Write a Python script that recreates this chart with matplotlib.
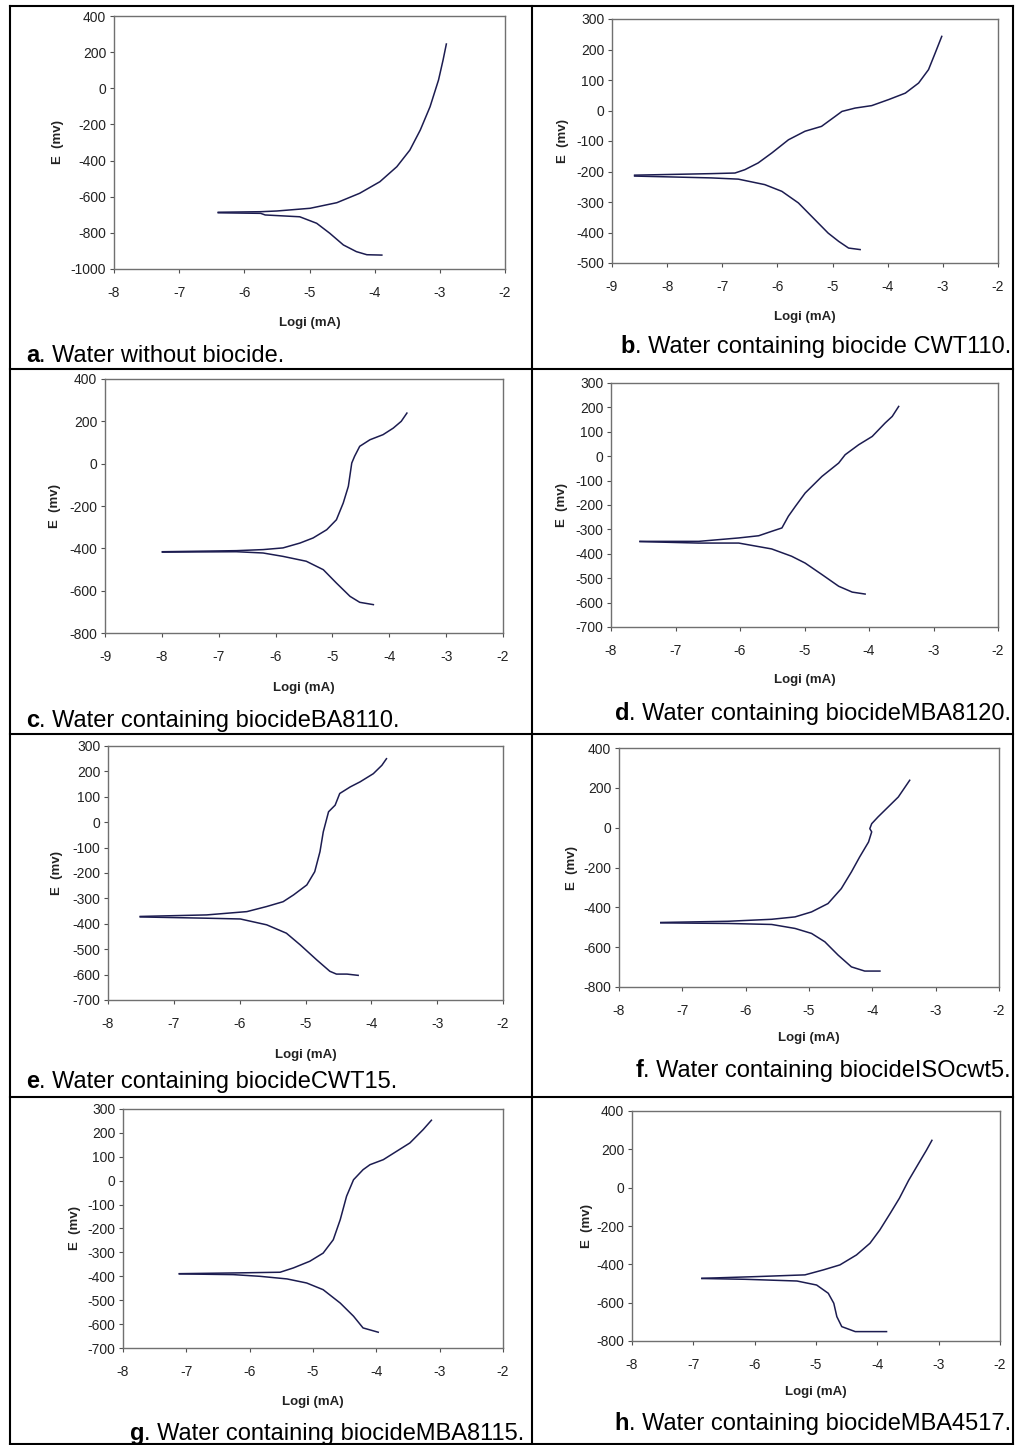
import matplotlib
matplotlib.use("Agg")
import matplotlib.pyplot as plt
from matplotlib.lines import Line2D

plt.rcParams['font.family'] = ['Liberation Sans', 'DejaVu Sans']
plt.rcParams['axes.unicode_minus'] = False

W, H = 1015, 1445

# ---- data (log i in mA, E in mV) ----
a_an_x = [-6.40, -5.75, -5.50, -4.99, -4.58, -4.23, -3.92, -3.66, -3.46, -3.30, -3.15, -3.02, -2.95, -2.90]
a_an_y = [-686, -683, -679, -664, -633, -581, -517, -434, -342, -231, -102, 46, 157, 245]
a_ca_x = [-6.40, -5.75, -5.68, -5.15, -4.89, -4.69, -4.48, -4.28, -4.12, -3.89]
a_ca_y = [-689, -692, -701, -711, -747, -802, -867, -904, -921, -923]

b_an_x = [-8.59, -7.2, -6.77, -6.59, -6.35, -6.1, -5.8, -5.5, -5.2, -4.95, -4.83, -4.59, -4.29, -3.98, -3.68, -3.44, -3.26, -3.14, -3.02]
b_an_y = [-212, -207, -205, -194, -172, -139, -96, -68, -52, -19, -3, 8, 16, 36, 57, 90, 134, 188, 243]
b_ca_x = [-8.59, -7.2, -6.71, -6.23, -5.92, -5.62, -5.32, -5.08, -4.89, -4.71, -4.5]
b_ca_y = [-215, -221, -225, -243, -265, -303, -358, -402, -429, -451, -456]

c_an_x = [-7.99, -6.69, -6.22, -5.87, -5.57, -5.34, -5.1, -4.93, -4.81, -4.72, -4.66, -4.61, -4.52, -4.34, -4.11, -3.93, -3.79, -3.69]
c_an_y = [-416, -411, -406, -398, -375, -351, -312, -265, -186, -107, 3, 35, 82, 113, 137, 168, 200, 239]
c_ca_x = [-7.99, -6.69, -6.22, -5.87, -5.46, -5.16, -4.93, -4.69, -4.52, -4.28]
c_ca_y = [-418, -416, -422, -438, -461, -501, -564, -627, -655, -666]

d_an_x = [-7.55, -6.64, -6.02, -5.71, -5.51, -5.35, -5.25, -5.14, -4.99, -4.73, -4.47, -4.37, -4.16, -3.95, -3.75, -3.64, -3.54]
d_an_y = [-349, -349, -335, -326, -308, -294, -246, -205, -151, -83, -28, 6, 47, 81, 136, 163, 204]
d_ca_x = [-7.55, -6.64, -6.02, -5.51, -5.2, -4.99, -4.73, -4.47, -4.26, -4.06]
d_ca_y = [-350, -356, -356, -380, -410, -438, -485, -533, -557, -565]

e_an_x = [-7.51, -6.5, -5.89, -5.59, -5.34, -5.18, -4.98, -4.86, -4.78, -4.73, -4.65, -4.55, -4.48, -4.32, -4.17, -3.97, -3.84, -3.77]
e_an_y = [-371, -365, -352, -332, -313, -286, -247, -195, -116, -38, 41, 67, 113, 139, 159, 191, 224, 250]
e_ca_x = [-7.51, -6.5, -5.99, -5.59, -5.29, -5.08, -4.83, -4.63, -4.53, -4.37, -4.2]
e_ca_y = [-373, -378, -381, -404, -437, -483, -542, -587, -598, -598, -603]

f_an_x = [-7.34, -6.28, -5.59, -5.22, -4.96, -4.7, -4.49, -4.33, -4.2, -4.06, -4.01, -4.04, -4.01, -3.91, -3.75, -3.59, -3.41]
f_an_y = [-476, -470, -460, -448, -423, -381, -306, -222, -147, -72, -21, -5, 20, 54, 104, 154, 238]
f_ca_x = [-7.34, -6.28, -5.59, -5.22, -4.96, -4.75, -4.54, -4.33, -4.12, -3.88]
f_ca_y = [-478, -481, -486, -506, -531, -573, -640, -699, -720, -720]

g_an_x = [-7.11, -6.26, -5.52, -5.31, -5.05, -4.84, -4.68, -4.57, -4.47, -4.36, -4.21, -4.1, -3.89, -3.68, -3.47, -3.26, -3.13]
g_an_y = [-389, -386, -383, -365, -337, -303, -247, -163, -65, 4, 46, 67, 88, 123, 158, 214, 253]
g_ca_x = [-7.11, -6.26, -5.84, -5.41, -5.1, -4.84, -4.57, -4.36, -4.21, -3.97]
g_ca_y = [-390, -393, -400, -411, -428, -456, -512, -567, -616, -634]

h_an_x = [-6.86, -5.97, -5.18, -4.88, -4.61, -4.34, -4.12, -3.96, -3.79, -3.64, -3.49, -3.33, -3.2, -3.11]
h_an_y = [-473, -464, -455, -429, -403, -351, -290, -221, -134, -55, 38, 125, 195, 247]
h_ca_x = [-6.86, -6.16, -5.31, -4.99, -4.80, -4.71, -4.66, -4.58, -4.36, -3.85]
h_ca_y = [-474, -478, -487, -508, -551, -603, -673, -725, -751, -751]

letters = ['a', 'b', 'c', 'd', 'e', 'f', 'g', 'h']
captions = ['. Water without biocide.',
            '. Water containing biocide CWT110.',
            '. Water containing biocideBA8110.',
            '. Water containing biocideMBA8120.',
            '. Water containing biocideCWT15.',
            '. Water containing biocideISOcwt5.',
            '. Water containing biocideMBA8115.',
            '. Water containing biocideMBA4517.']
anodic = [(a_an_x, a_an_y), (b_an_x, b_an_y), (c_an_x, c_an_y), (d_an_x, d_an_y),
          (e_an_x, e_an_y), (f_an_x, f_an_y), (g_an_x, g_an_y), (h_an_x, h_an_y)]
cathodic = [(a_ca_x, a_ca_y), (b_ca_x, b_ca_y), (c_ca_x, c_ca_y), (d_ca_x, d_ca_y),
            (e_ca_x, e_ca_y), (f_ca_x, f_ca_y), (g_ca_x, g_ca_y), (h_ca_x, h_ca_y)]
xlims = [(-8, -2), (-9, -2), (-9, -2), (-8, -2), (-8, -2), (-8, -2), (-8, -2), (-8, -2)]
ylims = [(-1000, 400), (-500, 300), (-800, 400), (-700, 300),
         (-700, 300), (-800, 400), (-700, 300), (-800, 400)]
ysteps = [200, 100, 200, 100, 100, 200, 100, 200]

# layout in pixels: axes box (left, top, right, bottom), ylabel x, xlabel y,
# caption (x, baseline y, alignment)
boxes = [(114, 16, 505, 269), (612, 19, 998, 263), (105, 379, 503, 633), (611, 383, 998, 627),
         (108, 746, 503, 1000), (619, 748, 999, 987), (123, 1109, 503, 1348), (632, 1111, 1000, 1341)]
ylab_x = [58, 563, 55, 562, 57, 572, 75, 587]
xlab_y = [323, 317, 688, 680, 1055, 1038, 1402, 1392]
cap_pos = [(26, 362, 'left'), (1011, 353, 'right'), (26, 727, 'left'), (1011, 720, 'right'),
           (26, 1088, 'left'), (1011, 1077, 'right'), (130, 1440, 'left'), (1011, 1430, 'right')]

fig = plt.figure(figsize=(W / 100, H / 100), dpi=100)
fig.patch.set_facecolor('white')


def fx(px):
    return px / W


def fy(py):
    return 1 - py / H


line_col = '#1c1c50'
for i in range(8):
    l, t, r, b = boxes[i]
    ax = fig.add_axes([fx(l), fy(b), (r - l) / W, (b - t) / H])
    ax.plot(*anodic[i], color=line_col, lw=1.1)
    ax.plot(*cathodic[i], color=line_col, lw=1.1)
    ax.set_xlim(*xlims[i])
    ax.set_ylim(*ylims[i])
    ax.set_xticks(range(xlims[i][0], xlims[i][1] + 1))
    ax.set_yticks(range(ylims[i][0], ylims[i][1] + 1, ysteps[i]))
    for s in ax.spines.values():
        s.set_color('#707070')
        s.set_linewidth(1.0)
    ax.tick_params(axis='both', direction='out', length=3, width=0.8, color='#505050',
                   labelsize=10, labelcolor='#222222')
    ax.tick_params(axis='x', pad=9)
    ax.tick_params(axis='y', pad=2.5)
    fig.text(fx((l + r) / 2), fy(xlab_y[i]), 'Logi (mA)', ha='center', va='center',
             fontsize=9.5, fontweight='bold', color='#222222')
    fig.text(fx(ylab_x[i]), fy((t + b) / 2), 'E  (mv)', ha='center', va='center',
             rotation=90, fontsize=9.5, fontweight='bold', color='#222222')

    cx, cy, al = cap_pos[i]
    if al == 'left':
        t1 = fig.text(fx(cx), fy(cy), letters[i], fontsize=17, fontweight='bold',
                      ha='left', va='baseline')
        plt.annotate(captions[i], xy=(1, 0), xycoords=t1, fontsize=17,
                     ha='left', va='bottom', annotation_clip=False)
    else:
        t2 = fig.text(fx(cx), fy(cy), captions[i], fontsize=17, ha='right', va='baseline')
        plt.annotate(letters[i], xy=(0, 0), xycoords=t2, fontsize=17, fontweight='bold',
                     ha='right', va='bottom', annotation_clip=False)

# table grid lines
def hline(y, x0, x1):
    fig.add_artist(Line2D([fx(x0), fx(x1)], [fy(y), fy(y)], color='black', lw=1.5))


def vline(x, y0, y1):
    fig.add_artist(Line2D([fx(x), fx(x)], [fy(y0), fy(y1)], color='black', lw=1.5))


for y in [6, 369, 734, 1097, 1444]:
    hline(y, 10, 1013)
for x in [10, 532, 1013]:
    vline(x, 6, 1444)

fig.savefig('out.png', dpi=100, facecolor='white')
